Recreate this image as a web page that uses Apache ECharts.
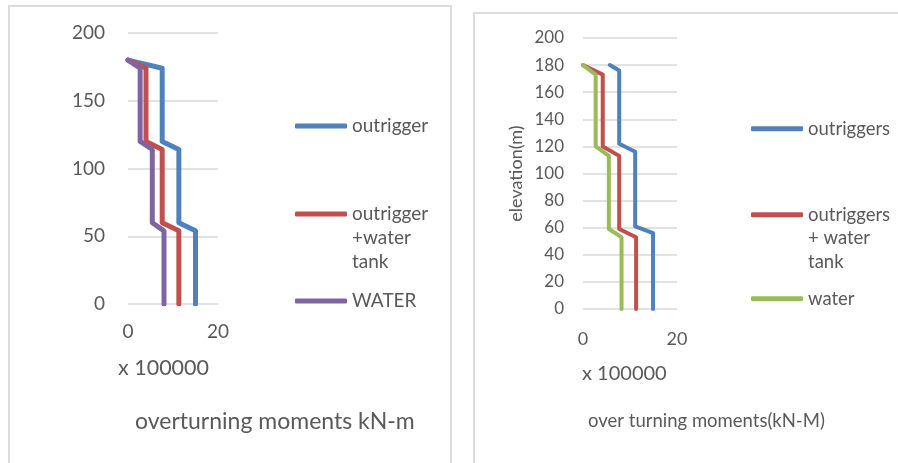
<!DOCTYPE html>
<html>
<head>
<meta charset="utf-8">
<script src="https://cdn.jsdelivr.net/npm/echarts@6/dist/echarts.min.js"></script>
<style>
  html, body { margin: 0; padding: 0; background: #ffffff; width: 898px; height: 463px; overflow: hidden; }
  #left { position: absolute; left: 0; top: 0; width: 462px; height: 463px; }
  #rightWrap { position: absolute; left: 462px; top: 0; width: 436px; height: 463px; filter: blur(0.55px); }
  #right { position: absolute; left: 0; top: 0; width: 436px; height: 463px; }
  .frame { position: absolute; border: 2px solid #dcdcdc; box-sizing: border-box; pointer-events: none; }
  #frameL { left: 8px; top: 5px; width: 444px; height: 480px; }
  #frameR { left: 11px; top: 12px; width: 460px; height: 480px; }
</style>
</head>
<body>
<div id="left"></div>
<div class="frame" id="frameL"></div>
<div id="rightWrap">
  <div id="right"></div>
  <div class="frame" id="frameR"></div>
</div>
<script>
// Overturning moment profiles (x 100000 kN-m) against elevation (m)

// Left panel
const elevA = [180, 174, 120, 114, 60, 54, 0];
const outriggerA = [0, 7.6, 7.6, 11.3, 11.3, 15.0, 15.0];
const outriggerTankA = [0, 4.0, 4.0, 7.6, 7.6, 11.3, 11.3];
const waterA = [0, 2.7, 2.7, 5.4, 5.4, 8.0, 8.0];
const namesA = ['outrigger', 'outrigger\n+water\ntank', 'WATER'];
const xTicksA = [0, 20];
const yTicksA = [0, 50, 100, 150, 200];

// Right panel
const elevOutB = [180, 176, 122, 116, 61, 56, 0];
const outriggersB = [5.7, 7.7, 7.7, 11.1, 11.1, 14.9, 14.9];
const elevB = [180, 173, 120, 113, 59, 53, 0];
const outriggersTankB = [0, 4.2, 4.2, 7.7, 7.7, 11.3, 11.3];
const waterB = [0, 2.7, 2.7, 5.5, 5.5, 8.2, 8.2];
const namesB = ['outriggers', 'outriggers\n+ water\ntank', 'water'];
const xTicksB = [0, 20];
const yTicksB = [0, 20, 40, 60, 80, 100, 120, 140, 160, 180, 200];

const BLUE = '#4f81bd', RED = '#c0504d', PURPLE = '#8064a2', GREEN = '#9bbb59';
const TXT = '#595959', GRID = '#d9d9d9';
const FONT = 'Lato';

function pairs(xs, ys) { return xs.map((x, i) => [x, ys[i]]); }
function step(arr) { return arr[1] - arr[0]; }

function lineSeries(name, xs, ys, color, width) {
  return {
    type: 'line', name: name, data: pairs(xs, ys),
    showSymbol: false, symbol: 'none', animation: false,
    lineStyle: { color: color, width: width, cap: 'round', join: 'round' },
    itemStyle: { color: color }
  };
}

// One legend entry; wrapped entries keep their first line level with the key line
function legendItem(name, left, top, fontSize, lineHeight) {
  const ts = { color: TXT, fontSize: fontSize, fontFamily: FONT, lineHeight: lineHeight };
  const lines = name.split('\n').length;
  return {
    left: left, top: top, padding: 0, orient: 'vertical',
    icon: 'roundRect', itemWidth: 52, itemHeight: 5, itemGap: 0,
    selectedMode: false,
    textStyle: ts,
    formatter: (n) => '\n'.repeat(lines - 1) + n,
    data: [{ name: name }]
  };
}

function axisX(ticks, fs, margin) {
  return {
    type: 'value', min: ticks[0], max: ticks[ticks.length - 1], interval: step(ticks),
    axisLine: { show: false }, axisTick: { show: false }, splitLine: { show: false },
    axisLabel: { color: TXT, fontSize: fs, fontFamily: FONT, margin: margin }
  };
}
function axisY(ticks, fs, margin) {
  return {
    type: 'value', min: ticks[0], max: ticks[ticks.length - 1], interval: step(ticks),
    axisLine: { show: false }, axisTick: { show: false },
    splitLine: { show: true, lineStyle: { color: GRID, width: 1.5 } },
    axisLabel: { color: TXT, fontSize: fs, fontFamily: FONT, margin: margin }
  };
}

const chartL = echarts.init(document.getElementById('left'), null, { renderer: 'canvas' });
chartL.setOption({
  animation: false,
  backgroundColor: 'transparent',
  title: [
    { text: 'x 100000', left: 118, top: 357, padding: 0,
      textStyle: { color: TXT, fontSize: 21.5, fontWeight: 'normal', fontFamily: FONT } },
    { text: 'overturning moments kN-m', left: 135, top: 410, padding: 0,
      textStyle: { color: TXT, fontSize: 23, fontWeight: 'normal', fontFamily: FONT } }
  ],
  grid: { left: 128, top: 33, width: 90, height: 271, containLabel: false },
  xAxis: axisX(xTicksA, 19, 18),
  yAxis: axisY(yTicksA, 19, 23),
  legend: [
    legendItem(namesA[0], 295, 114, 19, 24),
    legendItem(namesA[1], 295, 154, 19, 24),
    legendItem(namesA[2], 295, 289, 19, 24)
  ],
  series: [
    lineSeries(namesA[0], outriggerA, elevA, BLUE, 5),
    lineSeries(namesA[1], outriggerTankA, elevA, RED, 5),
    lineSeries(namesA[2], waterA, elevA, PURPLE, 5)
  ]
});

const chartR = echarts.init(document.getElementById('right'), null, { renderer: 'canvas' });
const yR = axisY(yTicksB, 17, 19);
yR.name = 'elevation(m)';
yR.nameLocation = 'middle';
yR.nameRotate = 90;
yR.nameGap = 58;
yR.nameTextStyle = { color: TXT, fontSize: 18, fontFamily: FONT };
chartR.setOption({
  animation: false,
  backgroundColor: 'transparent',
  title: [
    { text: 'x 100000', left: 120, top: 364, padding: 0,
      textStyle: { color: TXT, fontSize: 20, fontWeight: 'normal', fontFamily: FONT } },
    { text: 'over turning moments(kN-M)', left: 126, top: 412, padding: 0,
      textStyle: { color: TXT, fontSize: 18.5, fontWeight: 'normal', fontFamily: FONT } }
  ],
  grid: { left: 121, top: 38, width: 94, height: 271, containLabel: false },
  xAxis: axisX(xTicksB, 18, 21),
  yAxis: yR,
  legend: [
    legendItem(namesB[0], 289, 117, 18.5, 23.5),
    legendItem(namesB[1], 289, 156, 18.5, 23.5),
    legendItem(namesB[2], 289, 287, 18.5, 23.5)
  ],
  series: [
    lineSeries(namesB[0], outriggersB, elevOutB, BLUE, 4),
    lineSeries(namesB[1], outriggersTankB, elevB, RED, 4),
    lineSeries(namesB[2], waterB, elevB, GREEN, 4)
  ]
});
</script>
</body>
</html>
